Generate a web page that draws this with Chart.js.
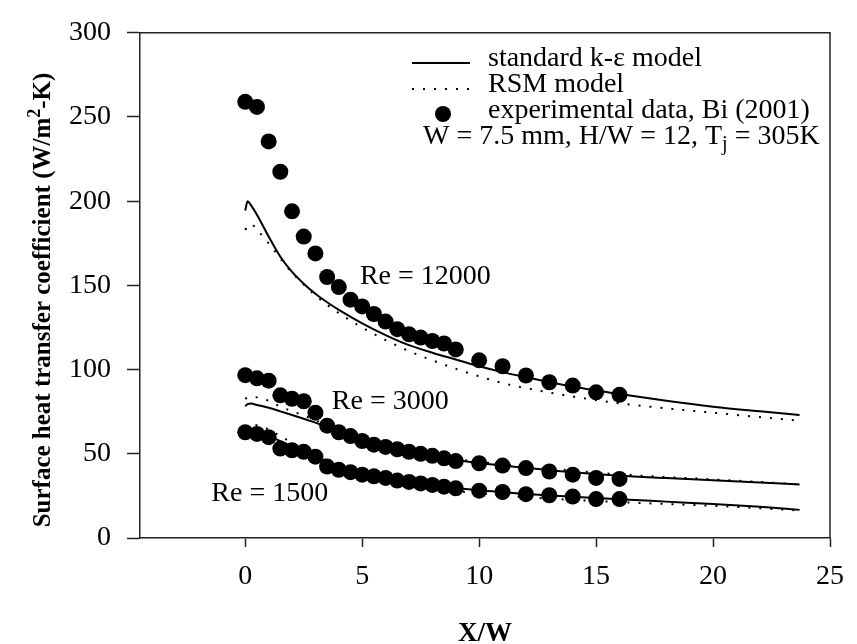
<!DOCTYPE html>
<html>
<head>
<meta charset="utf-8">
<script src="https://cdn.jsdelivr.net/npm/chart.js@4.4.0/dist/chart.umd.min.js"></script>
<style>
  body { margin: 0; background: #fff; }
  #wrap { width: 857px; height: 644px; }
</style>
</head>
<body>
<div id="wrap"><canvas id="heatChart" width="857" height="644"></canvas></div>
<script>
// x/W stations of the experimental points (same for every Re)
const expX = [0, 0.5, 1, 1.5, 2, 2.5, 3, 3.5, 4, 4.5, 5, 5.5, 6, 6.5, 7, 7.5, 8, 8.5, 9, 10, 11, 12, 13, 14, 15, 16];
const exp12000 = [259, 256, 235.5, 217.5, 194, 179, 169, 155, 149, 141.5, 137.5, 133, 128.5, 124, 121, 119, 117, 115.5, 112, 105.5, 102, 96.5, 92.5, 90.5, 86.5, 85];
const exp3000 = [96.7, 94.8, 93.4, 84.7, 82.7, 81.2, 74.4, 66.7, 62.8, 60.5, 57.6, 55.4, 54.1, 52.7, 51.2, 50, 48.8, 47.3, 45.7, 44.4, 43, 41.5, 39.5, 37.6, 35.7, 35.1];
const exp1500 = [62.8, 61.8, 59.9, 53.1, 52.1, 51.2, 48.3, 42.4, 40.5, 39.1, 37.6, 36.6, 35.7, 34.1, 33.3, 32.4, 31.5, 30.5, 29.5, 28.1, 27.3, 26, 25.4, 24.6, 23.1, 23.1];

const modelX = [0, 0.1, 0.25, 0.5, 1, 1.5, 2, 2.5, 3, 3.5, 4, 5, 6, 7, 8, 9, 10, 11, 12, 14, 16, 18, 20, 22, 23.7];
const ke12000 = [194.5, 200, 197.5, 192, 179, 167, 158, 151, 145, 140, 135.5, 127.5, 120.5, 114.5, 110, 106, 102, 98.5, 95.5, 90, 85.5, 81.5, 78, 75.2, 73];
const rsm12000 = [183, 185, 186.5, 183, 175, 166, 157.5, 150.5, 144, 138.5, 133.5, 125, 117.5, 111, 105.5, 100.5, 96, 92, 89, 84, 80, 77, 74.4, 71.8, 69.6];
const ke3000 = [78.3, 79.5, 79.8, 79, 77.3, 75.2, 73, 70.8, 68.5, 66, 63, 57.8, 54, 51, 48.5, 46.3, 44.5, 43, 41.7, 39, 37, 35.6, 34.3, 33, 31.8];
const rsm3000 = [82.6, 83.5, 84, 83.5, 81.5, 78, 75.3, 72.7, 70, 67, 64, 58.5, 54.5, 51.5, 49, 47, 45.2, 43.8, 42.5, 40, 37.8, 36.2, 34.8, 33.3, 31.8];
const ke1500 = [62, 62.8, 63, 62.5, 60.5, 57.5, 54.5, 51.5, 48.5, 45.3, 42.5, 38.3, 35.5, 33.2, 31.3, 29.7, 28.3, 27.2, 26.2, 24.5, 23, 21.6, 20.2, 18.5, 16.7];
const rsm1500 = [65.5, 66.5, 67.3, 67, 64.5, 60.5, 56.5, 52.8, 49.3, 46, 43, 38.5, 35.3, 32.5, 30, 28, 26.5, 25.2, 24.2, 22.6, 21.3, 20.2, 19.1, 17.7, 16.3];

const xTicks = [0, 5, 10, 15, 20, 25];
const yTicks = [0, 50, 100, 150, 200, 250, 300];

// Re labels placed in data coordinates
const reLabels = ["Re = 12000", "Re = 3000", "Re = 1500"];
const reLabelX = [7.7, 6.2, 1.05];
const reLabelY = [155, 81, 26.5];

const FONT = "'Liberation Serif', 'Times New Roman', serif";
const INK = "#000";

function toPoints(xs, ys) {
  return xs.map((x, i) => ({x: x, y: ys[i]}));
}

function curve(ys, dotted) {
  return {
    type: "line",
    data: toPoints(modelX, ys),
    borderColor: INK,
    borderWidth: 2,
    borderDash: dotted ? [2, 9] : [],
    pointRadius: 0,
    fill: false,
    cubicInterpolationMode: "monotone"
  };
}

function experiment(ys) {
  return {
    type: "scatter",
    data: toPoints(expX, ys),
    pointRadius: 8,
    pointBackgroundColor: INK,
    pointBorderWidth: 0
  };
}

// box round the plot: top and right edges
const framePlugin = {
  id: "frame",
  afterDraw(chart) {
    let c = chart.ctx, a = chart.chartArea;
    c.save();
    c.strokeStyle = "#222";
    c.lineWidth = 1.5;
    c.beginPath();
    c.moveTo(a.left, a.top);
    c.lineTo(a.right, a.top);
    c.lineTo(a.right, a.bottom);
    c.stroke();
    c.restore();
  }
};

// y title drawn by hand so the superscript 2 sits like the original
function drawYTitle(c) {
  let big = "bold 25px " + FONT, small = "bold 18px " + FONT;
  let head = "Surface heat transfer coefficient (W/m", tail = "-K)";
  c.save();
  c.font = big;
  let w1 = c.measureText(head).width, w3 = c.measureText(tail).width;
  c.font = small;
  let w2 = c.measureText("2").width;
  let total = w1 + w2 + w3;
  c.translate(44, 300);
  c.rotate(-Math.PI / 2);
  c.textAlign = "left";
  c.textBaseline = "middle";
  let x = -total / 2;
  c.font = big;
  c.fillText(head, x, 0);
  c.font = small;
  c.fillText("2", x + w1, -9);
  c.font = big;
  c.fillText(tail, x + w1 + w2, 0);
  c.restore();
}

// legend block, Re labels and y title
const notesPlugin = {
  id: "notes",
  afterDatasetsDraw(chart) {
    let c = chart.ctx;
    let xs = chart.scales.x, ys = chart.scales.y;
    c.save();
    c.fillStyle = INK;
    c.strokeStyle = INK;
    c.font = "28px " + FONT;
    c.textBaseline = "middle";

    c.textAlign = "center";
    reLabels.forEach((txt, i) => {
      c.fillText(txt, xs.getPixelForValue(reLabelX[i]), ys.getPixelForValue(reLabelY[i]));
    });

    c.textAlign = "left";
    // solid sample
    c.lineWidth = 2;
    c.beginPath();
    c.moveTo(412, 63);
    c.lineTo(470, 63);
    c.stroke();
    c.fillText("standard k-\u03b5 model", 488, 59);
    // dotted sample
    c.setLineDash([2, 9]);
    c.beginPath();
    c.moveTo(412, 89);
    c.lineTo(470, 89);
    c.stroke();
    c.setLineDash([]);
    c.fillText("RSM model", 488, 85);
    // circle sample
    c.beginPath();
    c.arc(443, 114, 8, 0, Math.PI * 2);
    c.fill();
    c.fillText("experimental data, Bi (2001)", 488, 111);

    // conditions line with subscript j
    let x0 = 423, yMid = 137;
    let part1 = "W = 7.5 mm, H/W = 12, T";
    c.fillText(part1, x0, yMid);
    x0 += c.measureText(part1).width;
    c.font = "20px " + FONT;
    c.fillText("j", x0, yMid + 8);
    x0 += c.measureText("j").width;
    c.font = "28px " + FONT;
    c.fillText(" = 305K", x0, yMid);
    c.restore();

    drawYTitle(c);
  }
};

document.addEventListener("DOMContentLoaded", () => {
  let ctx = document.getElementById("heatChart").getContext("2d");
  window.heatChart = new Chart(ctx, {
    type: "scatter",
    data: {
      datasets: [
        experiment(exp12000),
        experiment(exp3000),
        experiment(exp1500),
        curve(ke12000, false),
        curve(rsm12000, true),
        curve(ke3000, false),
        curve(rsm3000, true),
        curve(ke1500, false),
        curve(rsm1500, true)
      ]
    },
    options: {
      responsive: false,
      animation: false,
      layout: {padding: {top: 22, right: 15, left: 0, bottom: 0}},
      plugins: {
        legend: {display: false},
        tooltip: {enabled: false}
      },
      scales: {
        x: {
          type: "linear",
          min: -4.5,
          max: 25,
          afterBuildTicks: (s) => { s.ticks = xTicks.map(v => ({value: v})); },
          afterFit: (s) => { s.height = 106; },
          grid: {drawOnChartArea: false, tickLength: 9, tickColor: "#222", tickWidth: 1.5},
          border: {color: "#222", width: 1.5},
          ticks: {font: {family: FONT, size: 28}, color: INK, padding: 13, maxRotation: 0},
          title: {
            display: true,
            text: "X/W",
            color: INK,
            font: {family: FONT, size: 27, weight: "bold", lineHeight: 0.75},
            padding: 0
          }
        },
        y: {
          type: "linear",
          min: 0,
          max: 300,
          afterBuildTicks: (s) => { s.ticks = yTicks.map(v => ({value: v})); },
          afterFit: (s) => { s.width = 140; },
          grid: {drawOnChartArea: false, tickLength: 13, tickColor: "#222", tickWidth: 1.5},
          border: {color: "#222", width: 1.5},
          ticks: {font: {family: FONT, size: 28}, color: INK, padding: 16}
        }
      }
    },
    plugins: [framePlugin, notesPlugin]
  });
});
</script>
</body>
</html>
